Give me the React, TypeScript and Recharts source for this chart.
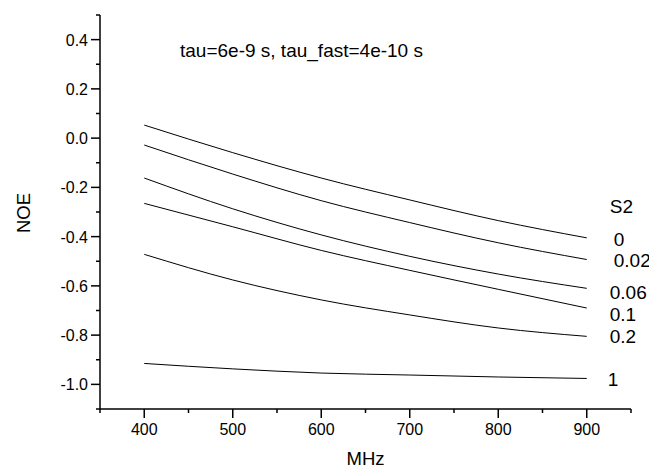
import React from 'react';
import { LineChart, Line, XAxis, YAxis, LabelList, Customized } from 'recharts';

const mhz = [400, 500, 600, 700, 800, 900];
const s2Names = ['0', '0.02', '0.06', '0.1', '0.2', '1'];
const noeS2_0 = [0.053, -0.059, -0.162, -0.251, -0.335, -0.405];
const noeS2_002 = [-0.028, -0.146, -0.254, -0.343, -0.425, -0.493];
const noeS2_006 = [-0.162, -0.287, -0.393, -0.48, -0.552, -0.61];
const noeS2_01 = [-0.265, -0.36, -0.456, -0.537, -0.614, -0.69];
const noeS2_02 = [-0.472, -0.576, -0.657, -0.718, -0.771, -0.805];
const noeS2_1 = [-0.915, -0.937, -0.954, -0.962, -0.97, -0.976];
const xTicks = [350, 400, 450, 500, 550, 600, 650, 700, 750, 800, 850, 900, 950];
const yTicks = [-1.1, -1.0, -0.9, -0.8, -0.7, -0.6, -0.5, -0.4, -0.3, -0.2, -0.1, 0.0, 0.1, 0.2, 0.3, 0.4, 0.5];
const titleText = 'tau=6e-9 s, tau_fast=4e-10 s';
const headerText = 'S2';

const series = [noeS2_0, noeS2_002, noeS2_006, noeS2_01, noeS2_02, noeS2_1];
const keys = ['s0', 's002', 's006', 's01', 's02', 's1'];
const labelDy = [1, 1, 4, 6, 0, 1];
const labelDx = [27, 27, 23, 23, 23, 21];

const data = mhz.map((m, i) => {
  const row: any = { mhz: m };
  keys.forEach((k, j) => { row[k] = series[j][i]; });
  return row;
});

const FONT = '"Liberation Sans", Arial, sans-serif';

const XTick = (props: any) => {
  const { x, y, payload } = props;
  const v = payload.value;
  const major = v % 100 === 0 && v >= 400 && v <= 900;
  return (
    <g>
      <line x1={x} x2={x} y1={y} y2={y + (major ? 9 : 4)} stroke="#000" strokeWidth={1.5} />
      {major && (
        <text x={x} y={y + 26} textAnchor="middle" fontSize={16} fill="#000" fontFamily={FONT}>
          {v}
        </text>
      )}
    </g>
  );
};

const YTick = (props: any) => {
  const { x, y, payload } = props;
  const v = payload.value;
  const t = Math.round(v * 10);
  const major = t % 2 === 0 && t >= -10 && t <= 4;
  return (
    <g>
      <line x1={x} x2={x - (major ? 9 : 4)} y1={y} y2={y} stroke="#000" strokeWidth={1.5} />
      {major && (
        <text x={x - 12} y={y + 6} textAnchor="end" fontSize={16} fill="#000" fontFamily={FONT}>
          {(t / 10).toFixed(1)}
        </text>
      )}
    </g>
  );
};

const Texts = () => (
  <g fontFamily={FONT} fill="#000">
    <text x={172} y={49} fontSize={19}>{titleText}</text>
    <text x={15.5} y={205} fontSize={18.5} textAnchor="middle" transform="rotate(-90 15.5 205)" dy="0.35em">NOE</text>
    <text x={357.5} y={457} fontSize={18.5} textAnchor="middle">MHz</text>
  </g>
);

const makeLabel = (j: number) => (p: any) => {
  if (p.index !== mhz.length - 1) return null;
  return (
    <g fontFamily={FONT} fill="#000" fontSize={19}>
      {j === 0 && (
        <text x={p.x + 23} y={p.y - 25}>{headerText}</text>
      )}
      <text x={p.x + labelDx[j]} y={p.y + labelDy[j]} dy="0.35em">{s2Names[j]}</text>
    </g>
  );
};

export default function App() {
  return (
    <div style={{ width: 649, height: 462 }}>
      <LineChart width={649} height={462} data={data} margin={{ top: 7, right: 26, bottom: 31, left: 32 }}>
        <XAxis
          dataKey="mhz"
          type="number"
          domain={[350, 950]}
          ticks={xTicks}
          interval={0}
          tick={<XTick />}
          tickSize={0}
          tickMargin={0}
          height={30}
          axisLine={{ stroke: '#000', strokeWidth: 1.5 }}
          tickLine={false}
        />
        <YAxis
          type="number"
          domain={[-1.1, 0.5]}
          ticks={yTicks}
          interval={0}
          tick={<YTick />}
          tickSize={0}
          tickMargin={0}
          width={60}
          allowDataOverflow
          axisLine={{ stroke: '#000', strokeWidth: 1.5 }}
          tickLine={false}
        />
        {keys.map((k, j) => (
          <Line
            key={k}
            dataKey={k}
            type="monotone"
            stroke="#000"
            strokeWidth={1}
            dot={false}
            isAnimationActive={false}
          >
            <LabelList dataKey={k} content={makeLabel(j)} />
          </Line>
        ))}
        <Customized component={<Texts />} />
      </LineChart>
    </div>
  );
}
